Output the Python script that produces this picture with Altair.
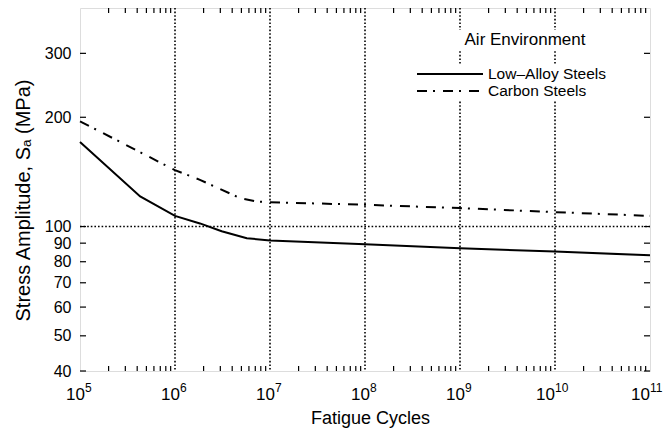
import altair as alt
import pandas as pd

# ---- data ----
low_cycles = [1e5, 4.3e5, 1e6, 1.83e6, 3.1e6, 5.7e6, 1e7, 1e8, 1e9, 1e10, 1e11]
low_stress = [171, 121, 107, 102, 97.1, 92.9, 91.5, 89.4, 87.2, 85.3, 83.3]

carbon_cycles = [1e5, 1e6, 1.83e6, 4.83e6, 7.24e6, 1e7, 1e8, 1e9, 1e10, 1e11]
carbon_stress = [195, 143, 134.5, 119.8, 117.2, 116.7, 114.8, 112.4, 109.6, 107]

series_names = ["Low–Alloy Steels", "Carbon Steels"]
legend_title = "Air Environment"

x_label_cycles = [1e5, 1e6, 1e7, 1e8, 1e9, 1e10, 1e11]
x_label_exps = ["5", "6", "7", "8", "9", "10", "11"]
y_tick_values = [40, 50, 60, 70, 80, 90, 100, 200, 300]
x_grid = [1e6, 1e7, 1e8, 1e9, 1e10]
y_grid = [100]
x_minor = [m * 10 ** d for d in range(5, 11) for m in range(2, 10)]

W, H = 570, 363
FONT = "Liberation Sans"

xs = alt.Scale(type="log", domain=[1e5, 1e11], nice=False)
ys = alt.Scale(type="log", domain=[40, 400], nice=False)

x_axis = alt.Axis(labels=False, ticks=False, domain=False, grid=False,
                  title="Fatigue Cycles", titleFontSize=18, titleFontWeight="normal",
                  titleY=47, titleBaseline="middle", titleColor="black", titleX=290)
y_axis = alt.Axis(values=y_tick_values, format="d", labelFontSize=16, labelColor="black",
                  labelPadding=9, labelOverlap=False, ticks=False, domain=False, grid=False,
                  title="Stress Amplitude, Sₐ (MPa)", titleFontSize=20,
                  titleFontWeight="normal", titleColor="black",
                  titleX=-57, titleY=192, titleAngle=270,
                  titleAlign="center", titleBaseline="middle")

def X(field):
    return alt.X(field, type="quantitative", scale=xs, axis=x_axis)

def Y(field):
    return alt.Y(field, type="quantitative", scale=ys, axis=y_axis)

low_df = pd.DataFrame({"cycles": low_cycles, "stress": low_stress})
carbon_df = pd.DataFrame({"cycles": carbon_cycles, "stress": carbon_stress})
xg_df = pd.DataFrame({"cycles": x_grid})
yg_df = pd.DataFrame({"stress": y_grid})
xminor_df = pd.DataFrame({"cycles": x_minor})
yt_df = pd.DataFrame({"stress": y_tick_values})
lab_df = pd.DataFrame({"cycles": x_label_cycles, "exp": x_label_exps, "base": ["10"] * len(x_label_exps)})
lab1 = lab_df[lab_df["exp"].str.len() == 1]
lab2 = lab_df[lab_df["exp"].str.len() == 2]
one = pd.DataFrame({"k": [0]})

dot = [1.6, 2.0]

grid_v = alt.Chart(xg_df).mark_rule(color="black", strokeWidth=1.6, strokeDash=dot).encode(
    x=X("cycles"), y=alt.value(0), y2=alt.value(H))
grid_h = alt.Chart(yg_df).mark_rule(color="black", strokeWidth=1.6, strokeDash=dot).encode(
    y=Y("stress"), x=alt.value(0), x2=alt.value(W))

tick_bot_minor = alt.Chart(xminor_df).mark_rule(color="black", strokeWidth=1.2).encode(
    x=X("cycles"), y=alt.value(H), y2=alt.value(H - 5))
tick_top_minor = alt.Chart(xminor_df).mark_rule(color="black", strokeWidth=1.2).encode(
    x=X("cycles"), y=alt.value(0), y2=alt.value(5))
tick_left = alt.Chart(yt_df).mark_rule(color="black", strokeWidth=1.2).encode(
    y=Y("stress"), x=alt.value(0), x2=alt.value(6))
tick_right = alt.Chart(yt_df).mark_rule(color="black", strokeWidth=1.2).encode(
    y=Y("stress"), x=alt.value(W - 6), x2=alt.value(W))

line_low = alt.Chart(low_df).mark_line(color="black", strokeWidth=2).encode(
    x=X("cycles"), y=Y("stress"))
line_carbon = alt.Chart(carbon_df).mark_line(color="black", strokeWidth=2,
                                             strokeDash=[10, 6, 2, 8]).encode(
    x=X("cycles"), y=Y("stress"))

lab_base1 = alt.Chart(lab1).mark_text(fontSize=17, align="right", baseline="middle", dx=5,
                                      color="black", font=FONT).encode(
    x=X("cycles"), y=alt.value(H + 24), text="base:N")
lab_exp1 = alt.Chart(lab1).mark_text(fontSize=12, align="left", baseline="middle", dx=5,
                                     color="black", font=FONT).encode(
    x=X("cycles"), y=alt.value(H + 17), text="exp:N")
lab_base2 = alt.Chart(lab2).mark_text(fontSize=17, align="right", baseline="middle", dx=0,
                                      color="black", font=FONT).encode(
    x=X("cycles"), y=alt.value(H + 24), text="base:N")
lab_exp2 = alt.Chart(lab2).mark_text(fontSize=12, align="left", baseline="middle", dx=0,
                                     color="black", font=FONT).encode(
    x=X("cycles"), y=alt.value(H + 17), text="exp:N")

# manual legend
leg_bg1 = alt.Chart(one).mark_rect(color="white").encode(
    x=alt.value(374), x2=alt.value(516), y=alt.value(22), y2=alt.value(42))
leg_bg2 = alt.Chart(one).mark_rect(color="white").encode(
    x=alt.value(332), x2=alt.value(548), y=alt.value(56), y2=alt.value(93))
leg_title = alt.Chart(one).mark_text(text=legend_title, fontSize=17, align="center",
                                     baseline="middle", color="black", font=FONT).encode(
    x=alt.value(445), y=alt.value(32))
leg_line1 = alt.Chart(one).mark_rule(color="black", strokeWidth=2).encode(
    x=alt.value(337), x2=alt.value(403), y=alt.value(66))
leg_line2 = alt.Chart(one).mark_rule(color="black", strokeWidth=2,
                                     strokeDash=[10, 6, 2, 8]).encode(
    x=alt.value(337), x2=alt.value(403), y=alt.value(83))
leg_lab1 = alt.Chart(one).mark_text(text=series_names[0], fontSize=15.5, align="left",
                                    baseline="middle", color="black", font=FONT).encode(
    x=alt.value(408), y=alt.value(66))
leg_lab2 = alt.Chart(one).mark_text(text=series_names[1], fontSize=15.5, align="left",
                                    baseline="middle", color="black", font=FONT).encode(
    x=alt.value(408), y=alt.value(83))

chart = alt.layer(
    grid_v, grid_h, tick_bot_minor, tick_top_minor, tick_left, tick_right,
    line_low, line_carbon,
    lab_base1, lab_exp1, lab_base2, lab_exp2,
    leg_bg1, leg_bg2, leg_title, leg_line1, leg_line2, leg_lab1, leg_lab2,
).properties(
    width=W, height=H,
    autosize=alt.AutoSizeParams(type="none"),
    padding={"left": 80, "top": 8, "right": 17, "bottom": 67},
    background="white",
).configure_view(
    stroke="black", strokeWidth=1.6
).configure(font=FONT)

chart.save("out.html", embed_options={"renderer": "svg", "actions": False})
